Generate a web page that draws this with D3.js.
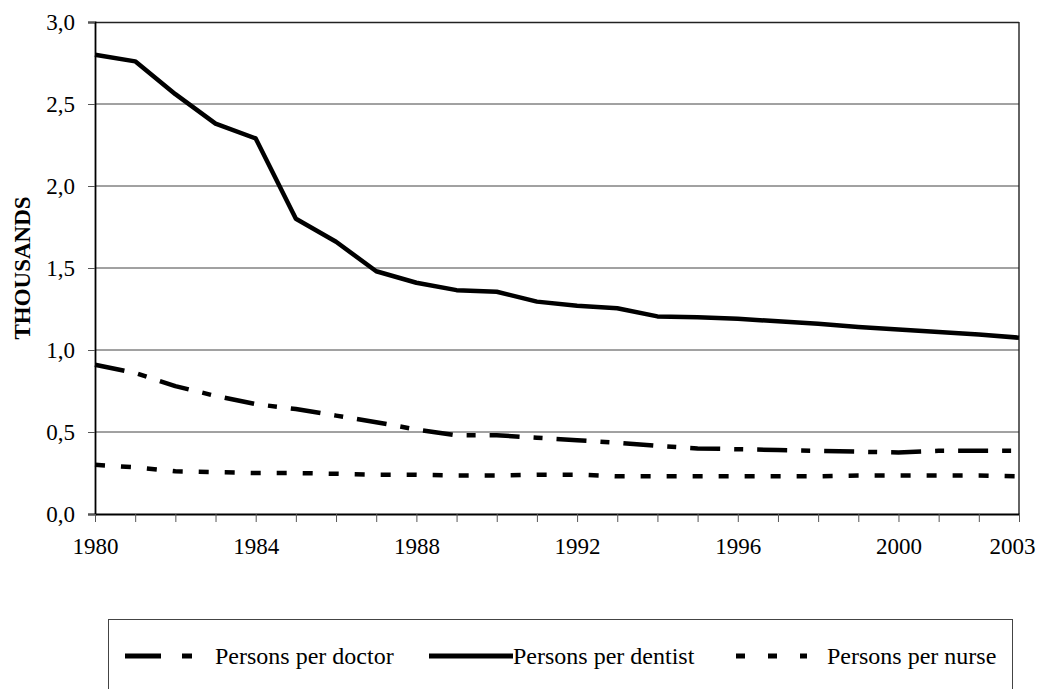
<!DOCTYPE html>
<html>
<head>
<meta charset="utf-8">
<script src="https://cdn.jsdelivr.net/npm/d3@7"></script>
<style>
  body { margin: 0; background: #fff; }
  svg text { font-family: "Liberation Serif", "Times New Roman", Times, serif; }
</style>
</head>
<body>
<div id="chart-area"></div>
<script>
// data (thousands of persons)
var years = d3.range(1980, 2004);
var dentist = [2.80, 2.76, 2.56, 2.38, 2.29, 1.80, 1.66, 1.48, 1.41, 1.365, 1.355, 1.295, 1.27, 1.255, 1.205, 1.20, 1.19, 1.175, 1.16, 1.14, 1.125, 1.11, 1.095, 1.075];
var doctor = [0.91, 0.86, 0.78, 0.72, 0.67, 0.64, 0.60, 0.56, 0.515, 0.48, 0.48, 0.465, 0.45, 0.435, 0.415, 0.40, 0.395, 0.39, 0.385, 0.38, 0.375, 0.385, 0.385, 0.385];
var nurse = [0.30, 0.285, 0.26, 0.255, 0.25, 0.25, 0.245, 0.24, 0.24, 0.235, 0.235, 0.24, 0.24, 0.23, 0.23, 0.23, 0.23, 0.23, 0.23, 0.235, 0.235, 0.235, 0.235, 0.23];
var xTickLabels = [1980, 1984, 1988, 1992, 1996, 2000, 2003];
var yTicks = [0, 0.5, 1.0, 1.5, 2.0, 2.5, 3.0];

var series = [
    {name: "Persons per doctor", values: doctor, dash: "30,14,9,14"},
    {name: "Persons per dentist", values: dentist, dash: null},
    {name: "Persons per nurse", values: nurse, dash: "10,16"}
];

var W = 1039, H = 689;
var margin = {top: 22, right: 20, bottom: 175, left: 95};
var width = W - margin.left - margin.right,
    height = H - margin.top - margin.bottom;

var svg = d3.select("#chart-area").append("svg")
    .attr("width", W)
    .attr("height", H);

var g = svg.append("g")
    .attr("transform", "translate(" + margin.left + "," + margin.top + ")");

var x = d3.scaleLinear().domain([1980, 2003]).range([0, width]);
var y = d3.scaleLinear().domain([0, 3]).range([height, 0]);

var fmt = function (d) { return d3.format(".1f")(d).replace(".", ","); };

// gridlines
g.selectAll(".grid")
    .data(yTicks.filter(function (d) { return d > 0 && d < 3; }))
    .enter().append("line")
    .attr("x1", 0).attr("x2", width)
    .attr("y1", function (d) { return y(d); })
    .attr("y2", function (d) { return y(d); })
    .attr("stroke", "#444")
    .attr("stroke-width", 1);

// frame top and right
g.append("line").attr("x1", 0).attr("x2", width).attr("y1", 0.5).attr("y2", 0.5)
    .attr("stroke", "#222").attr("stroke-width", 1.6);
g.append("line").attr("x1", width).attr("x2", width).attr("y1", 0).attr("y2", height)
    .attr("stroke", "#222").attr("stroke-width", 1.4);

// y axis
var yAxis = g.append("g")
    .call(d3.axisLeft(y).tickValues(yTicks).tickFormat(fmt).tickSize(7).tickPadding(13));
yAxis.attr("font-family", null);
yAxis.select(".domain").attr("stroke", "#000").attr("stroke-width", 1.8);
yAxis.selectAll(".tick line").attr("stroke", "#555");
yAxis.selectAll("text").attr("font-size", 23).attr("fill", "#000");

// x axis: tick every year, labels only on some
var xAxis = g.append("g")
    .attr("transform", "translate(0," + height + ")")
    .call(d3.axisBottom(x).tickValues(years)
        .tickFormat(function (d) { return xTickLabels.indexOf(d) >= 0 ? d : ""; })
        .tickSize(8).tickSizeOuter(0).tickPadding(16));
xAxis.attr("font-family", null);
xAxis.select(".domain").attr("stroke", "#000").attr("stroke-width", 2.2);
xAxis.selectAll(".tick line").attr("stroke", "#555");
xAxis.selectAll("text").attr("font-size", 23).attr("fill", "#000");
// last label pulled in so it stays on the page
xAxis.selectAll(".tick text")
    .filter(function (d) { return d === 2003; })
    .attr("text-anchor", "end")
    .attr("x", 16);

// y label
svg.append("text")
    .attr("transform", "translate(30," + (margin.top + y(1.5)) + ") rotate(-90)")
    .attr("text-anchor", "middle")
    .attr("font-size", 23)
    .attr("font-weight", "bold")
    .text("THOUSANDS");

// lines
var line = d3.line()
    .x(function (d, i) { return x(years[i]); })
    .y(function (d) { return y(d); });

g.selectAll(".series")
    .data(series)
    .enter().append("path")
    .attr("class", "series")
    .attr("d", function (d) { return line(d.values); })
    .attr("fill", "none")
    .attr("stroke", "#000")
    .attr("stroke-width", 4.5)
    .attr("stroke-linejoin", "round")
    .attr("stroke-dasharray", function (d) { return d.dash; });

// legend
svg.append("rect")
    .attr("x", 108.5).attr("y", 619.5)
    .attr("width", 904).attr("height", 100)
    .attr("fill", "none").attr("stroke", "#444").attr("stroke-width", 1);

var legendPos = [
    {x1: 125, x2: 192, tx: 215, dash: "36,21,10,21"},
    {x1: 429, x2: 513, tx: 513, dash: null},
    {x1: 736, x2: 807, tx: 827, dash: "9,23"}
];
var legendY = 656;

var lg = svg.selectAll(".legend")
    .data(series)
    .enter().append("g").attr("class", "legend");

lg.append("line")
    .attr("x1", function (d, i) { return legendPos[i].x1; })
    .attr("x2", function (d, i) { return legendPos[i].x2; })
    .attr("y1", legendY).attr("y2", legendY)
    .attr("stroke", "#000").attr("stroke-width", 5)
    .attr("stroke-dasharray", function (d, i) { return legendPos[i].dash; });

lg.append("text")
    .attr("x", function (d, i) { return legendPos[i].tx; })
    .attr("y", legendY + 8)
    .attr("font-size", 24)
    .text(function (d) { return d.name; });
</script>
</body>
</html>
